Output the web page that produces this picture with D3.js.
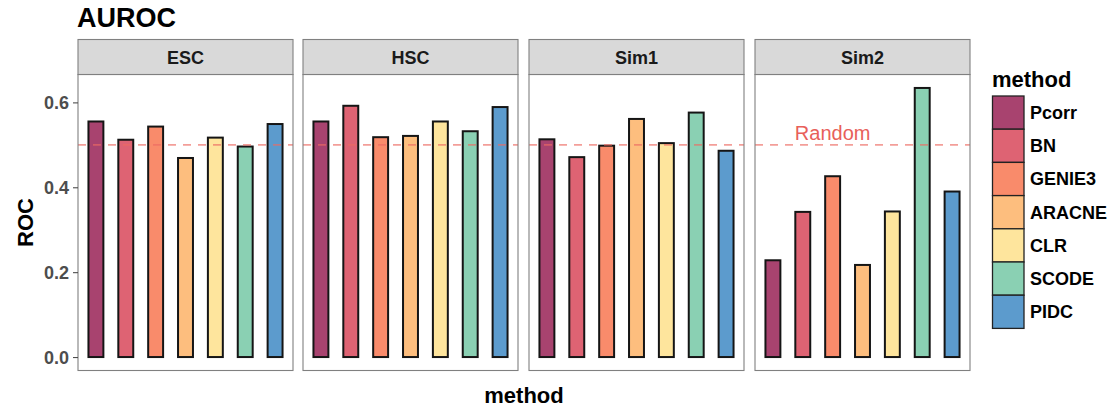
<!DOCTYPE html>
<html>
<head>
<meta charset="utf-8">
<script src="https://cdn.jsdelivr.net/npm/d3@7"></script>
<style>
  html, body { margin: 0; padding: 0; background: #fff; }
  svg { display: block; font-family: "Liberation Sans", Arial, Helvetica, sans-serif; }
</style>
</head>
<body>
<svg id="chart" width="1115" height="410"></svg>
<script>
const methods = ["Pcorr", "BN", "GENIE3", "ARACNE", "CLR", "SCODE", "PIDC"];
const colors = ["#A8436F", "#DE6373", "#F98B6B", "#FDBE7E", "#FEE59D", "#8AD0B3", "#5C9BCD"];
const datasets = ["ESC", "HSC", "Sim1", "Sim2"];
const escValues  = [0.555, 0.512, 0.543, 0.469, 0.517, 0.496, 0.549];
const hscValues  = [0.555, 0.592, 0.518, 0.521, 0.555, 0.532, 0.589];
const sim1Values = [0.513, 0.471, 0.498, 0.561, 0.504, 0.576, 0.486];
const sim2Values = [0.228, 0.342, 0.426, 0.217, 0.343, 0.634, 0.390];
const yTicks = [0.0, 0.2, 0.4, 0.6];
const randomLevel = 0.5;
const randomLabel = "Random";
const randomLabelMethod = "GENIE3";
const randomLabelY = 0.512;

const valuesByDataset = [escValues, hscValues, sim1Values, sim2Values];

const svg = d3.select("#chart");

const panelTop = 74.5, panelBottom = 370.5;
const stripTop = 39.5;
const panelLefts = [78, 303, 529, 755];
const panelWidth = 215;

const allVals = valuesByDataset.flat();
const yMax = d3.max(allVals), yMin = 0;
const ext = (yMax - yMin) * 0.05;
const y = d3.scaleLinear().domain([yMin - ext, yMax + ext]).range([panelBottom, panelTop]);

const color = d3.scaleOrdinal().domain(methods).range(colors);

// Title
svg.append("text").attr("x", 77).attr("y", 27)
  .attr("font-size", 27).attr("font-weight", "bold").attr("fill", "#000")
  .text("AUROC");

datasets.forEach((ds, di) => {
  const left = panelLefts[di];
  const x = d3.scaleBand().domain(methods)
    .range([left, left + panelWidth])
    .paddingInner(0.5).paddingOuter(0.35);

  const g = svg.append("g");

  g.append("rect").attr("x", left).attr("y", panelTop)
    .attr("width", panelWidth).attr("height", panelBottom - panelTop)
    .attr("fill", "#fff");

  const vals = valuesByDataset[di];
  g.selectAll("rect.bar").data(methods).enter().append("rect")
    .attr("class", "bar")
    .attr("x", d => x(d))
    .attr("width", x.bandwidth())
    .attr("y", (d, i) => y(vals[i]))
    .attr("height", (d, i) => y(0) - y(vals[i]))
    .attr("fill", d => color(d))
    .attr("stroke", "#151515")
    .attr("stroke-width", 2);

  g.append("line")
    .attr("x1", left).attr("x2", left + panelWidth)
    .attr("y1", y(randomLevel)).attr("y2", y(randomLevel))
    .attr("stroke", "#ec6a63").attr("stroke-opacity", 0.65)
    .attr("stroke-width", 1.7)
    .attr("stroke-dasharray", "8,7");

  if (ds === "Sim2") {
    g.append("text")
      .attr("x", x(randomLabelMethod) + x.bandwidth() / 2)
      .attr("y", y(randomLabelY))
      .attr("text-anchor", "middle")
      .attr("font-size", 20)
      .attr("fill", "#e8605a")
      .text(randomLabel);
  }

  g.append("rect").attr("x", left).attr("y", panelTop)
    .attr("width", panelWidth).attr("height", panelBottom - panelTop)
    .attr("fill", "none").attr("stroke", "#808080").attr("stroke-width", 1.1);

  g.append("rect").attr("x", left).attr("y", stripTop)
    .attr("width", panelWidth).attr("height", panelTop - stripTop)
    .attr("fill", "#d9d9d9").attr("stroke", "#808080").attr("stroke-width", 1.1);
  g.append("text")
    .attr("x", left + panelWidth / 2).attr("y", 63.5)
    .attr("text-anchor", "middle")
    .attr("font-size", 18).attr("font-weight", "bold").attr("fill", "#1a1a1a")
    .text(ds);
});

const yAxis = d3.axisLeft(y).tickValues(yTicks).tickFormat(d3.format(".1f")).tickSize(5).tickPadding(4);
const ya = svg.append("g").attr("transform", `translate(${panelLefts[0]},0)`).call(yAxis);
ya.select(".domain").remove();
ya.selectAll(".tick line").attr("stroke", "#4d4d4d").attr("stroke-width", 1.1);
ya.selectAll(".tick text")
  .attr("font-size", 18).attr("font-weight", "bold").attr("fill", "#4d4d4d")
  .attr("font-family", "'Liberation Sans', Arial, sans-serif")
  .attr("dy", "0.36em");

svg.append("text")
  .attr("transform", `translate(33,${(panelTop + panelBottom) / 2}) rotate(-90)`)
  .attr("text-anchor", "middle")
  .attr("font-size", 22).attr("font-weight", "bold").attr("fill", "#000")
  .text("ROC");

svg.append("text")
  .attr("x", (panelLefts[0] + panelLefts[3] + panelWidth) / 2).attr("y", 403)
  .attr("text-anchor", "middle")
  .attr("font-size", 22).attr("font-weight", "bold").attr("fill", "#000")
  .text("method");

const lg = svg.append("g");
lg.append("text").attr("x", 992).attr("y", 87)
  .attr("font-size", 22).attr("font-weight", "bold").attr("fill", "#000")
  .text("method");
const keyH = 33.2, keyW = 31.5, keyTop = 96;
methods.forEach((m, i) => {
  lg.append("rect")
    .attr("x", 992.5).attr("y", keyTop + i * keyH)
    .attr("width", keyW).attr("height", keyH)
    .attr("fill", color(m)).attr("stroke", "#222").attr("stroke-width", 1.3);
  lg.append("text")
    .attr("x", 1030).attr("y", keyTop + i * keyH + keyH / 2)
    .attr("dy", "0.36em")
    .attr("font-size", 18).attr("font-weight", "bold").attr("fill", "#000")
    .text(m);
});
</script>
</body>
</html>
